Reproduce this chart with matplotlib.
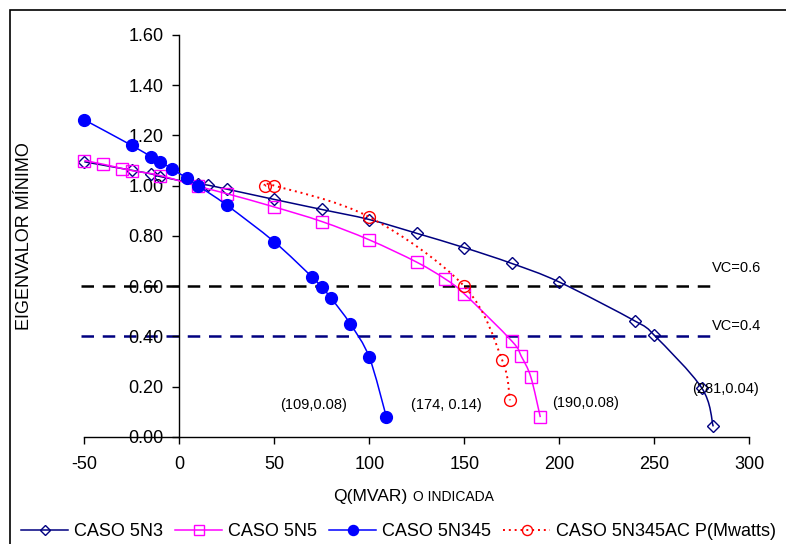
import numpy as np
import matplotlib
matplotlib.use('Agg')
import matplotlib.pyplot as plt
from matplotlib.path import Path
from matplotlib.patches import PathPatch, Rectangle
from matplotlib.lines import Line2D

plt.rcParams['font.family'] = ['Liberation Sans', 'DejaVu Sans']
plt.rcParams['axes.unicode_minus'] = False

# datos
q_5n3 = [-50, -25, -15, -10, 10, 15, 25, 50, 75, 100, 125, 150, 175, 200, 240, 250, 275, 281]
ev_5n3 = [1.095, 1.061, 1.047, 1.036, 1.006, 1.002, 0.986, 0.945, 0.905, 0.865, 0.81, 0.753, 0.69, 0.616, 0.46, 0.404, 0.194, 0.041]

q_5n5 = [-50, -40, -30, -25, -10, 10, 25, 50, 75, 100, 125, 140, 150, 175, 180, 185, 190]
ev_5n5 = [1.10, 1.085, 1.068, 1.06, 1.04, 0.997, 0.968, 0.915, 0.857, 0.784, 0.695, 0.628, 0.569, 0.381, 0.32, 0.238, 0.078]

q_5n345 = [-50, -25, -15, -10, -4, 4, 10, 25, 50, 70, 75, 80, 90, 100, 109]
ev_5n345 = [1.262, 1.16, 1.116, 1.096, 1.067, 1.03, 0.999, 0.922, 0.776, 0.635, 0.595, 0.551, 0.449, 0.316, 0.078]

p_5n345ac = [45, 50, 100, 150, 170, 174]
ev_5n345ac = [1.0, 1.0, 0.875, 0.599, 0.304, 0.145]

vc_x = [-52, 281]
vc_06 = [0.6, 0.6]
vc_04 = [0.4, 0.4]

notes = ['(109,0.08)', '(174, 0.14)', '(190,0.08)', '(281,0.04)']
notes_x = [53, 122, 196, 270]
notes_y = [0.126, 0.126, 0.134, 0.19]

legend_names = ['CASO 5N3', 'CASO 5N5', 'CASO 5N345', 'CASO 5N345AC P(Mwatts)']


def smooth_path(x, y):
    # curva suavizada tipo Excel (Bezier a partir de Catmull-Rom)
    pts = np.column_stack([x, y]).astype(float)
    n = len(pts)
    verts = [pts[0]]
    codes = [Path.MOVETO]
    for i in range(n - 1):
        p0 = pts[i - 1] if i > 0 else pts[i]
        p1 = pts[i]
        p2 = pts[i + 1]
        p3 = pts[i + 2] if i + 2 < n else pts[i + 1]
        c1 = p1 + (p2 - p0) / 6.0
        c2 = p2 - (p3 - p1) / 6.0
        verts += [c1, c2, p2]
        codes += [Path.CURVE4] * 3
    return Path(verts, codes)


fig = plt.figure(figsize=(7.86, 5.44), dpi=100)
ax = fig.add_axes([0.1073, 0.1972, 0.8460, 0.7385])

series = [
    (q_5n3, ev_5n3, '#000080', 'D', 'none', 6.0, '-'),
    (q_5n5, ev_5n5, '#FF00FF', 's', 'none', 9.0, '-'),
    (q_5n345, ev_5n345, '#0000FF', 'o', '#0000FF', 8.5, '-'),
    (p_5n345ac, ev_5n345ac, '#FF0000', 'o', 'none', 8.5, (0, (1, 2))),
]

handles = []
for i, (xs, ys, col, mk, fc, ms, ls) in enumerate(series):
    patch = PathPatch(smooth_path(xs, ys), facecolor='none', edgecolor=col,
                      lw=1.1 if ls == '-' else 1.4, linestyle=ls, zorder=2 + i)
    ax.add_patch(patch)
    ax.plot(xs, ys, linestyle='none', marker=mk, markersize=ms, markerfacecolor=fc,
            markeredgecolor=col, markeredgewidth=1.0, clip_on=False, zorder=3 + i)
    handles.append(Line2D([], [], color=col, lw=1.1 if ls == '-' else 1.4, linestyle=ls,
                          marker=mk, markersize=ms * 0.85, markerfacecolor=fc,
                          markeredgecolor=col, markeredgewidth=1.0))

ax.plot(vc_x, vc_06, color='black', lw=1.8, linestyle=(0, (5, 3.5)), clip_on=False, zorder=1)
ax.plot(vc_x, vc_04, color='#000080', lw=1.8, linestyle=(0, (5, 3.5)), clip_on=False, zorder=1)
ax.text(280.4, 0.672, 'VC=0.6', fontsize=10.5, va='center', ha='left')
ax.text(280.4, 0.441, 'VC=0.4', fontsize=10.5, va='center', ha='left')
for t, tx, ty in zip(notes, notes_x, notes_y):
    ax.text(tx, ty, t, fontsize=10.5, va='center', ha='left')

ax.set_xlim(-50, 300)
ax.set_ylim(0, 1.6)
ax.set_xticks(np.arange(-50, 301, 50))
ax.set_yticks(np.arange(0, 1.61, 0.2))
ax.set_yticklabels(['%.2f' % v for v in np.arange(0, 1.61, 0.2)])
ax.spines['left'].set_position(('data', 0))
ax.spines['bottom'].set_position(('data', 0))
ax.spines['top'].set_visible(False)
ax.spines['right'].set_visible(False)
for s in ['left', 'bottom']:
    ax.spines[s].set_linewidth(1.0)
ax.tick_params(axis='x', direction='out', length=5, width=1, labelsize=13, pad=9)
ax.tick_params(axis='y', direction='out', length=5, width=1, labelsize=13, pad=6.5)
ax.patch.set_visible(False)

fig.text(0.0318, 0.566, 'EIGENVALOR MÍNIMO', rotation=90, fontsize=13, ha='center', va='center')
fig.text(407 / 786, 0.079, 'Q(MVAR)', fontsize=12.6, ha='right', va='baseline')
fig.text(413 / 786, 0.079, 'O INDICADA', fontsize=10, ha='left', va='baseline')

fig.legend(handles, legend_names, loc='center', bbox_to_anchor=(0.507, 0.0226), ncol=4,
           frameon=False, fontsize=13, handlelength=2.6, handletextpad=0.3,
           columnspacing=0.7, borderaxespad=0, borderpad=0)

# marco del grafico
fig.add_artist(Rectangle((10 / 786, -0.1), 1.2, 1.1 - 10 / 544, transform=fig.transFigure,
                         fill=False, edgecolor='black', lw=1.2))

fig.savefig('out.png', dpi=100)
